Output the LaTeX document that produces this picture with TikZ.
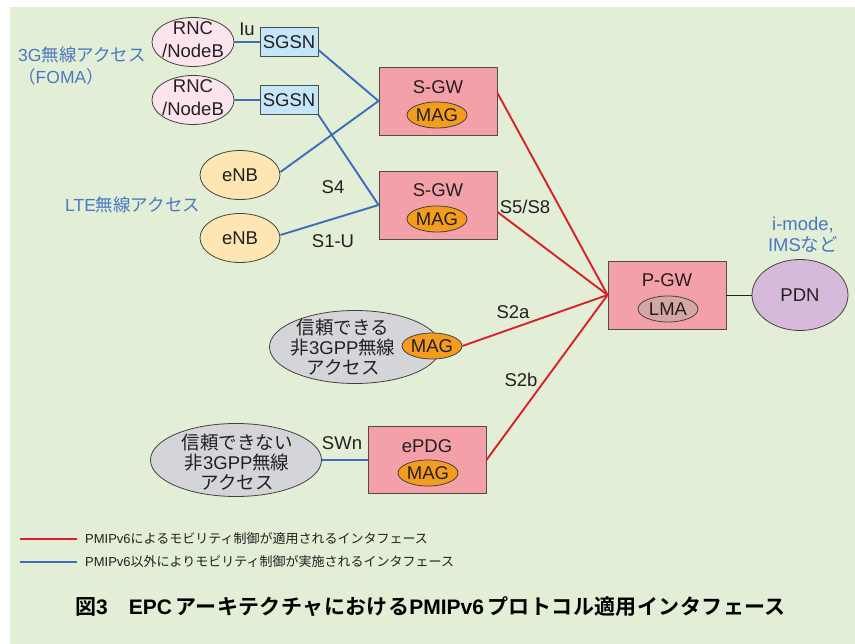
\documentclass[tikz,border=0pt]{standalone}
\usepackage{fontspec}
\setmainfont{Liberation Sans}
\newfontfamily\jp{Noto Sans CJK JP}
\newfontfamily\jpb{Noto Sans CJK JP Bold}[LetterSpace=2]
\usetikzlibrary{shapes.geometric,calc}

\definecolor{bg}{RGB}{226,238,213}
\definecolor{ink}{RGB}{35,31,32}
\definecolor{gwpink}{RGB}{244,160,168}
\definecolor{magorange}{RGB}{243,156,30}
\definecolor{sgsnblue}{RGB}{197,230,248}
\definecolor{rncpink}{RGB}{252,228,236}
\definecolor{enbyellow}{RGB}{253,230,178}
\definecolor{accgray}{RGB}{211,213,216}
\definecolor{lmafill}{RGB}{212,167,165}
\definecolor{pdnfill}{RGB}{215,185,219}
\definecolor{pmipred}{RGB}{217,33,41}
\definecolor{otherblue}{RGB}{60,110,190}
\definecolor{notetext}{RGB}{74,120,194}

\tikzset{
  lbl/.style={font=\fontsize{18.5}{20}\selectfont, text=ink, inner sep=0pt},
  gwbox/.style={draw=ink!80, line width=0.9pt, fill=gwpink, minimum width=118pt, minimum height=68pt, inner sep=0pt},
  sgsnbox/.style={draw=ink!80, line width=0.9pt, fill=sgsnblue, minimum width=58pt, minimum height=29pt, inner sep=0pt, lbl},
  ell/.style={ellipse, draw=ink!85, line width=0.8pt, inner sep=0pt},
  magell/.style={ell, fill=magorange, minimum width=60pt, minimum height=26pt, lbl},
  rncell/.style={ell, fill=rncpink, minimum width=82pt, minimum height=49pt},
  rnctext/.style={lbl, align=center, font=\fontsize{18.5}{23.5}\selectfont},
  enbell/.style={ell, fill=enbyellow, minimum width=80pt, minimum height=49pt, lbl},
  accell/.style={ell, fill=accgray, minimum width=171pt, minimum height=73pt},
  pmip/.style={draw=pmipred, line width=1.9pt},
  other/.style={draw=otherblue, line width=1.9pt},
  note/.style={font=\fontsize{17.5}{21}\selectfont, text=notetext, inner sep=0pt},
  legendtxt/.style={font=\jp\fontsize{13}{14}\selectfont, text=ink, inner sep=0pt, anchor=west},
}

\begin{document}
\begin{tikzpicture}[x=1pt,y=-1pt]
\useasboundingbox (0,0) rectangle (855,644);
\fill[bg] (10,7) rectangle (855,644);

% 3G access side
\node[rncell] (rnc1) at (193,42) {};
\node[rnctext] (rnc1t) at (193,39.5) {RNC\\/NodeB};
\node[rncell] (rnc2) at (193,100) {};
\node[rnctext] (rnc2t) at (193,97.5) {RNC\\/NodeB};
\node[sgsnbox] (sgsn1) at (289,42) {SGSN};
\node[sgsnbox] (sgsn2) at (289,100) {SGSN};
\node[lbl] (iu) at (247,29) {Iu};

% LTE access side
\node[enbell] (enb1) at (240,175) {eNB};
\node[enbell] (enb2) at (240,238) {eNB};

% access group captions
\node[note, anchor=west] (cap3g) at (18,55) {3G{\jp 無線アクセス}};
\node[note, anchor=west] (capfoma) at (18,77) {{\jp （}FOMA{\jp ）}};
\node[note, anchor=west] (caplte) at (65,205) {LTE{\jp 無線アクセス}};

% serving gateways
\node[gwbox] (sgw1) at (438,101) {};
\node[lbl] (sgw1t) at (438,87) {S-GW};
\node[magell] (mag1) at (437,115) {MAG};
\node[gwbox] (sgw2) at (438,205) {};
\node[lbl] (sgw2t) at (438,190) {S-GW};
\node[magell] (mag2) at (437,219) {MAG};

% PDN gateway and PDN
\node[gwbox] (pgw) at (667,295) {};
\node[lbl] (pgwt) at (667,280) {P-GW};
\node[ell, fill=lmafill, minimum width=60pt, minimum height=26pt, lbl] (lma) at (668,309) {LMA};
\node[ell, fill=pdnfill, minimum width=96pt, minimum height=71pt, lbl] (pdn) at (800,295) {PDN};
\node[lbl, text=notetext, align=center, font=\fontsize{18.5}{21}\selectfont] (imode) at (803,235) {i-mode,\\IMS{\jp など}};

% non-3GPP access
\node[accell] (trusted) at (355,347) {};
\node[lbl, align=center, font=\jp\fontsize{18.5}{20}\selectfont] (trustedt) at (343,347) {信頼できる\\非{\rmfamily 3GPP}無線\\アクセス};
\node[magell] (mag3) at (432,346) {MAG};

\node[accell] (untrusted) at (236,460) {};
\node[lbl, align=center, font=\jp\fontsize{18.5}{20}\selectfont] (untrustedt) at (237,462) {信頼できない\\非{\rmfamily 3GPP}無線\\アクセス};
\node[gwbox, minimum height=67pt] (epdg) at (427,460) {};
\node[lbl] (epdgt) at (427,446) {ePDG};
\node[magell] (mag4) at (428,473) {MAG};

% interfaces outside PMIPv6
\draw[other] (rnc1.east) -- (sgsn1.west);
\draw[other] (rnc2.east) -- (sgsn2.west);
\draw[other] ([yshift=-8pt]sgsn1.east) -- (sgw1.west);
\draw[other] (sgsn2.south east) -- (sgw2.west);
\draw[other] ([yshift=3pt]enb1.east) -- (sgw1.west);
\draw[other] ([yshift=3pt]enb2.east) -- (sgw2.west);
\draw[other] (untrusted.east) -- (epdg.west);

% PMIPv6 interfaces
\draw[pmip] ([yshift=8pt]sgw1.east) -- (pgw.west);
\draw[pmip] ([yshift=-7pt]sgw2.east) -- (pgw.west);
\draw[pmip] (mag3.east) -- (pgw.west);
\draw[pmip] (epdg.east) -- (pgw.west);
\draw[draw=ink, line width=0.9pt] (pgw.east) -- (pdn.west);

% interface names
\node[lbl] (s4) at (333,187) {S4};
\node[lbl] (s1u) at (333,241) {S1-U};
\node[lbl] (s5) at (525,207) {S5/S8};
\node[lbl] (s2a) at (513,312) {S2a};
\node[lbl] (s2b) at (521,380) {S2b};
\node[lbl] (swn) at (342,443) {SWn};

% legend
\coordinate (lr1) at (20,539);
\coordinate (lr2) at (77,539);
\coordinate (lb1) at (20,562);
\coordinate (lb2) at (77,562);
\draw[pmip, line width=1.6pt] (lr1) -- (lr2);
\draw[other, line width=1.6pt] (lb1) -- (lb2);
\node[legendtxt] (leg1) at (85,539) {{\rmfamily PMIPv6}によるモビリティ制御が適用されるインタフェース};
\node[legendtxt] (leg2) at (85,562) {{\rmfamily PMIPv6}以外によりモビリティ制御が実施されるインタフェース};

% caption
\node[anchor=west, inner sep=0pt, text=black, font=\jpb\fontsize{21}{22}\selectfont] (title) at (75,607)
  {図{\rmfamily\bfseries 3}\hspace{21pt}{\rmfamily\bfseries EPC}\,アーキテクチャにおける{\rmfamily\bfseries PMIPv6}\,プロトコル適用インタフェース};
\end{tikzpicture}
\end{document}
